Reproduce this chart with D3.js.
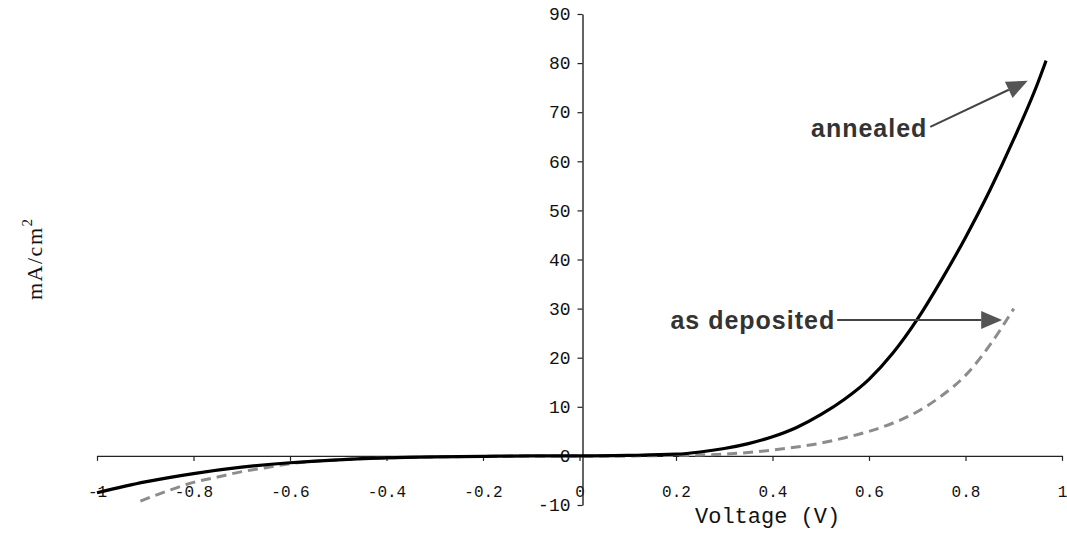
<!DOCTYPE html>
<html><head><meta charset="utf-8">
<script src="https://cdn.jsdelivr.net/npm/d3@7"></script>
<style>
html,body{margin:0;padding:0;background:#fff;}
svg{display:block;}
</style></head>
<body>
<svg id="chart" width="1067" height="535"></svg>
<script>
// ---- data ----
const annealedV = [-1, -0.9, -0.8, -0.7, -0.6, -0.5, -0.4, -0.3, -0.2, -0.1, 0, 0.1, 0.2, 0.25, 0.3, 0.35, 0.4, 0.45, 0.5, 0.55, 0.6, 0.65, 0.7, 0.75, 0.8, 0.85, 0.9, 0.95, 0.967];
const annealedJ = [-7.5, -5.3, -3.6, -2.3, -1.4, -0.8, -0.4, -0.2, -0.1, 0, 0, 0.1, 0.35, 0.8, 1.5, 2.5, 3.9, 5.8, 8.4, 11.6, 15.6, 21.0, 27.8, 35.8, 44.5, 54, 64.5, 76, 80.5];
const depositedV = [-0.91, -0.85, -0.8, -0.75, -0.7, -0.65, -0.6, -0.5, -0.4, -0.3, -0.2, -0.1, 0, 0.1, 0.2, 0.25, 0.3, 0.35, 0.4, 0.45, 0.5, 0.55, 0.6, 0.65, 0.7, 0.75, 0.8, 0.85, 0.9];
const depositedJ = [-9.2, -7.0, -5.4, -4.3, -3.2, -2.4, -1.6, -0.8, -0.4, -0.2, -0.1, 0, 0, 0, 0.1, 0.2, 0.35, 0.7, 1.2, 1.8, 2.6, 3.7, 5.0, 6.7, 9.0, 12.2, 16.4, 22.5, 30];
const xTicks = [-1, -0.8, -0.6, -0.4, -0.2, 0, 0.2, 0.4, 0.6, 0.8, 1];
const xTickLabels = ["-1", "-0.8", "-0.6", "-0.4", "-0.2", "0", "0.2", "0.4", "0.6", "0.8", "1"];
const yTicks = [-10, 0, 10, 20, 30, 40, 50, 60, 70, 80, 90];
const yTickLabels = ["-10", "0", "10", "20", "30", "40", "50", "60", "70", "80", "90"];
const xTitle = "Voltage (V)";
const yTitle = "mA/cm";
const yTitleSup = "2";
// annotations: label, text end point, arrow start, arrow tip (data units)
const annLabels = ["annealed", "as deposited"];
const annText = [[0.721, 65.0], [0.530, 25.8]];
const annFrom = [[0.727, 67.0], [0.534, 27.7]];
const annTo = [[0.929, 76.4], [0.876, 27.7]];

// ---- scales ----
const svg = d3.select("#chart");
const x = d3.scaleLinear().domain([-1, 1]).range([97, 1062]);
const y = d3.scaleLinear().domain([-10, 90]).range([505, 14]);

const mono = "'Liberation Mono','Courier New',monospace";

// x axis at y=0
const xAxis = d3.axisBottom(x).tickValues(xTicks)
  .tickFormat((d, i) => xTickLabels[i]).tickSize(5).tickPadding(25).tickSizeOuter(0);
const gx = svg.append("g").attr("transform", `translate(0,${y(0)})`).call(xAxis);
gx.select(".domain").attr("stroke", "#222").attr("stroke-width", 1.2);
gx.selectAll(".tick line").attr("stroke", "#222").attr("stroke-width", 1.2);
gx.selectAll(".tick text").attr("font-family", mono).attr("font-size", 16).attr("fill", "#111");

// y axis at x=0
const yAxis = d3.axisLeft(y).tickValues(yTicks)
  .tickFormat((d, i) => yTickLabels[i]).tickSize(5).tickPadding(7).tickSizeOuter(0);
const gy = svg.append("g").attr("transform", `translate(${x(0) + 3},0)`).call(yAxis);
gy.select(".domain").attr("stroke", "#222").attr("stroke-width", 1.4);
gy.selectAll(".tick line").attr("stroke", "#222").attr("stroke-width", 1.2);
gy.selectAll(".tick text").attr("font-family", mono).attr("font-size", 18).attr("fill", "#111");

// curves
const line = d3.line().x(d => x(d[0])).y(d => y(d[1])).curve(d3.curveMonotoneX);
svg.append("path").datum(depositedV.map((v, i) => [v, depositedJ[i]]))
  .attr("d", line).attr("fill", "none").attr("stroke", "#8c8c8c")
  .attr("stroke-width", 3).attr("stroke-dasharray", "10,6");
svg.append("path").datum(annealedV.map((v, i) => [v, annealedJ[i]]))
  .attr("d", line).attr("fill", "none").attr("stroke", "#000")
  .attr("stroke-width", 3.2);

// annotations
annLabels.forEach((lab, i) => {
  const x1 = x(annFrom[i][0]), y1 = y(annFrom[i][1]);
  const x2 = x(annTo[i][0]), y2 = y(annTo[i][1]);
  const ang = Math.atan2(y2 - y1, x2 - x1);
  const hl = 21, hw = 9;
  const bx = x2 - hl * Math.cos(ang), by = y2 - hl * Math.sin(ang);
  svg.append("line").attr("x1", x1).attr("y1", y1).attr("x2", bx).attr("y2", by)
    .attr("stroke", "#444").attr("stroke-width", 2);
  const pts = [[x2, y2],
    [bx + hw * Math.sin(ang), by - hw * Math.cos(ang)],
    [bx - hw * Math.sin(ang), by + hw * Math.cos(ang)]];
  svg.append("polygon").attr("points", pts.map(p => p.join(",")).join(" "))
    .attr("fill", "#555");
  svg.append("text").attr("x", x(annText[i][0])).attr("y", y(annText[i][1]))
    .attr("text-anchor", "end")
    .attr("font-family", "'Liberation Sans',Arial,sans-serif")
    .attr("font-weight", "bold").attr("font-size", 25).attr("letter-spacing", 1)
    .attr("fill", "#333").text(lab);
});

// axis titles
svg.append("text").attr("x", 695).attr("y", 523)
  .attr("font-family", mono).attr("font-size", 22).attr("fill", "#111").text(xTitle);
const yt = svg.append("text").attr("transform", "translate(42,300) rotate(-90)")
  .attr("font-family", "'Liberation Serif','Times New Roman',serif")
  .attr("font-size", 22).attr("letter-spacing", 1.5).attr("fill", "#111");
yt.append("tspan").text(yTitle);
yt.append("tspan").attr("dy", -10).attr("font-size", 15).text(yTitleSup);
</script>
</body></html>
